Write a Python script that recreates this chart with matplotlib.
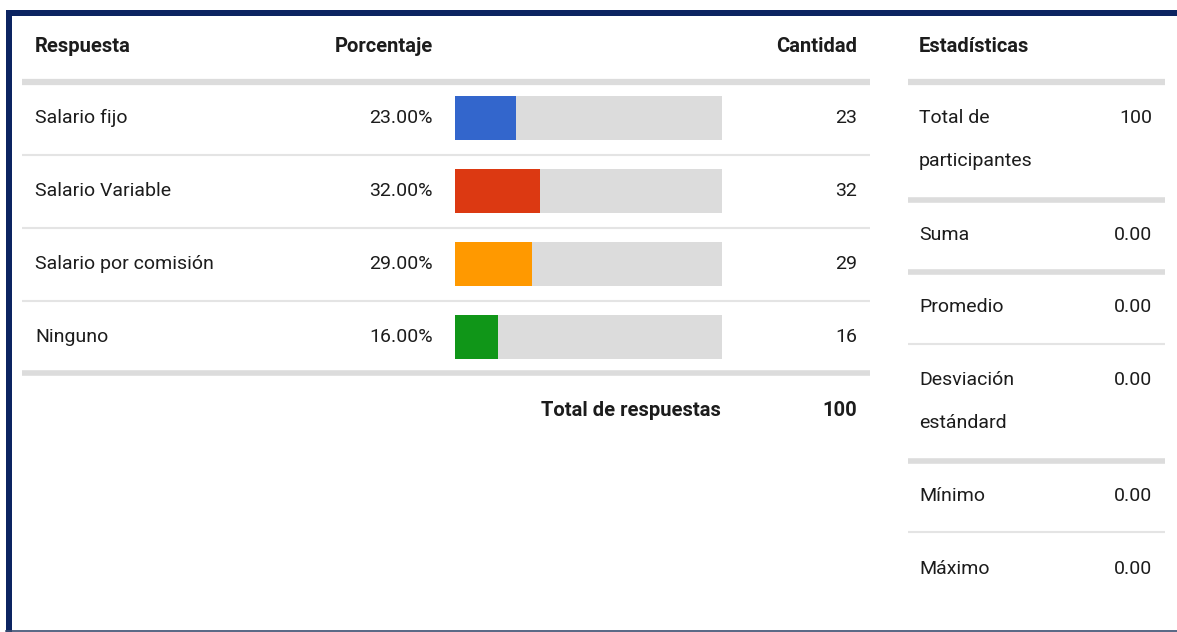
import matplotlib
matplotlib.use("Agg")
import matplotlib.pyplot as plt
from matplotlib.patches import Rectangle

plt.rcParams['font.family'] = ['Roboto', 'DejaVu Sans']

# Respuestas de la encuesta
respuestas = ["Salario fijo", "Salario Variable", "Salario por comisión", "Ninguno"]
porcentajes = [23.00, 32.00, 29.00, 16.00]
cantidades = [23, 32, 29, 16]
colores = ["#3366cc", "#dc3912", "#ff9900", "#109618"]
total_respuestas = 100

# Panel de estadísticas
estadisticas = [["Total de", "participantes"], ["Suma"], ["Promedio"],
                ["Desviación", "estándard"], ["Mínimo"], ["Máximo"]]
valores_est = ["100", "0.00", "0.00", "0.00", "0.00", "0.00"]

W, H = 1177, 632
fig = plt.figure(figsize=(W / 100, H / 100), dpi=100)
ax = fig.add_axes([0, 0, 1, 1])
ax.set_xlim(0, W)
ax.set_ylim(H, 0)
ax.axis("off")

TXT = "#1c1c1c"
SEP = "#dcdcdc"
SEP_FINO = "#e4e4e4"
FS = 14
FSB = 14.5

# marco azul
navy = "#0c2461"
ax.add_patch(Rectangle((6, 10), W, 6, color=navy, lw=0))
ax.add_patch(Rectangle((6, 10), 6, H, color=navy, lw=0))
ax.plot([6, W], [631, 631], color="#3b4d70", lw=1.2)

# ---- tabla de respuestas ----
fila0, paso = 118, 73
ax.text(35, 46, "Respuesta", fontsize=FSB, fontweight="bold", color=TXT, va="center")
ax.text(433, 46, "Porcentaje", fontsize=FSB, fontweight="bold", color=TXT, va="center", ha="right")
ax.text(857, 46, "Cantidad", fontsize=FSB, fontweight="bold", color=TXT, va="center", ha="right")
ax.plot([22, 870], [82, 82], color=SEP, lw=4.5, solid_capstyle="butt")

filas_y = [fila0 + i * paso for i in range(len(respuestas))]
for i, (r, p, c) in enumerate(zip(respuestas, porcentajes, cantidades)):
    y = filas_y[i]
    ax.text(35, y, r, fontsize=FS, color=TXT, va="center")
    ax.text(433, y, f"{p:.2f}%", fontsize=FS, color=TXT, va="center", ha="right")
    ax.text(857, y, str(c), fontsize=FS, color=TXT, va="center", ha="right")
    if i < len(respuestas) - 1:
        ax.plot([22, 870], [y + 37, y + 37], color=SEP_FINO, lw=1.5, solid_capstyle="butt")
ax.plot([22, 870], [373, 373], color=SEP, lw=4, solid_capstyle="butt")

ax.text(721, 410, "Total de respuestas", fontsize=FSB, fontweight="bold", color=TXT,
        va="center", ha="right")
ax.text(857, 410, str(total_respuestas), fontsize=FSB, fontweight="bold", color=TXT,
        va="center", ha="right")

# barras de porcentaje
axb = fig.add_axes([455 / W, 0, 267 / W, 1])
axb.set_xlim(0, 100)
axb.set_ylim(H, 0)
axb.axis("off")
axb.barh(filas_y, [100] * len(filas_y), height=44, color="#dcdcdc", lw=0)
axb.barh(filas_y, porcentajes, height=44, color=colores, lw=0)

# ---- estadísticas ----
ax.text(919, 46, "Estadísticas", fontsize=FSB, fontweight="bold", color=TXT, va="center")
ax.plot([908, 1165], [82, 82], color=SEP, lw=4.5, solid_capstyle="butt")
est_y = [118, 235, 307, 380, 496, 569]
lineas = [(200, 4, SEP), (272, 4, SEP), (344, 1.5, SEP_FINO), (461, 4, SEP), (532, 1.5, SEP_FINO)]
for nombre, val, y in zip(estadisticas, valores_est, est_y):
    for k, parte in enumerate(nombre):
        ax.text(919, y + 43 * k, parte, fontsize=FS, color=TXT, va="center")
    ax.text(1152, y, val, fontsize=FS, color=TXT, va="center", ha="right")
for y, lw, col in lineas:
    ax.plot([908, 1165], [y, y], color=col, lw=lw, solid_capstyle="butt")

fig.savefig("out.png", dpi=100)
